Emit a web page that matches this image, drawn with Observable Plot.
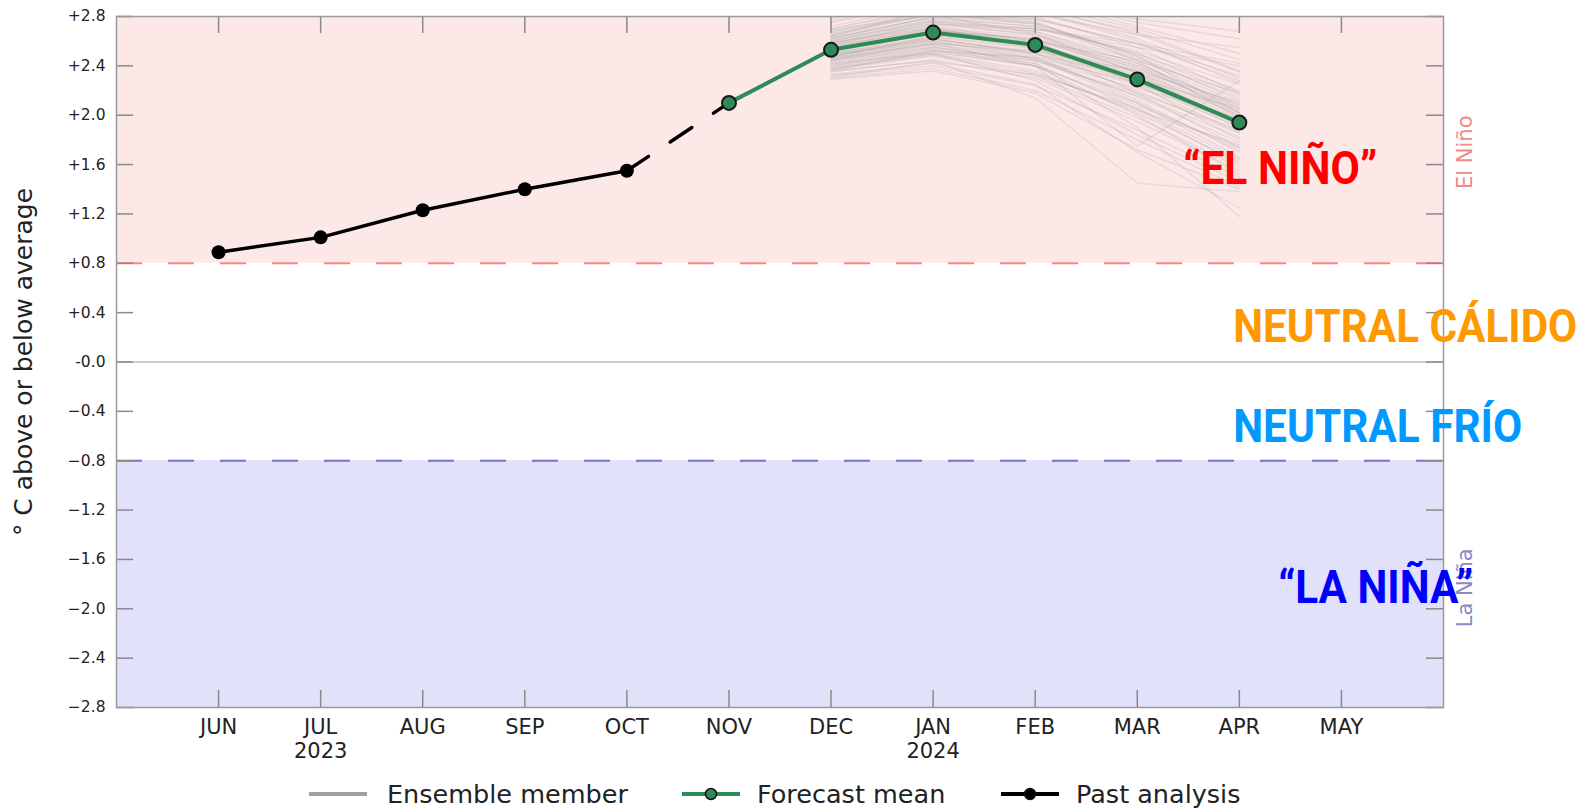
<!DOCTYPE html>
<html>
<head>
<meta charset="utf-8">
<script src="https://cdn.jsdelivr.net/npm/d3@7"></script>
<script src="https://cdn.jsdelivr.net/npm/@observablehq/plot@0.6"></script>
<style>
  body { margin: 0; background: #fff; }
  #wrap { width: 1589px; position: relative; }
  #legend { position: relative; width: 1589px; height: 39px; font-family: "DejaVu Sans", sans-serif; font-size: 25.5px; color: #222; }
  #legend .item { position: absolute; top: 4px; height: 39px; display: flex; align-items: center; }
  #legend svg { display: block; }
</style>
</head>
<body>
<div id="wrap"></div>
<script>
// ---- data ----
const months = ["JUN","JUL","AUG","SEP","OCT","NOV","DEC","JAN","FEB","MAR","APR","MAY"];
const years  = ["", "2023", "", "", "", "", "", "2024", "", "", "", ""];
const yTicks = [2.8,2.4,2.0,1.6,1.2,0.8,0.4,0,-0.4,-0.8,-1.2,-1.6,-2.0,-2.4,-2.8];
const yTickLabels = ["+2.8","+2.4","+2.0","+1.6","+1.2","+0.8","+0.4","-0.0","\u22120.4","\u22120.8","\u22121.2","\u22121.6","\u22122.0","\u22122.4","\u22122.8"];

const pastMonths = ["JUN","JUL","AUG","SEP","OCT"];
const pastValues = [0.89, 1.01, 1.23, 1.40, 1.55];

const forecastMonths = ["NOV","DEC","JAN","FEB","MAR","APR"];
const forecastMean   = [2.10, 2.53, 2.67, 2.57, 2.29, 1.94];

const ensembleMonths = ["DEC","JAN","FEB","MAR","APR"];
const ensemble = [
  [2.55,2.70,2.62,2.35,2.00],[2.48,2.62,2.50,2.20,1.85],[2.60,2.78,2.72,2.50,2.20],
  [2.40,2.52,2.40,2.10,1.72],[2.70,2.88,2.85,2.62,2.30],[2.35,2.45,2.30,1.95,1.55],
  [2.52,2.66,2.58,2.32,1.98],[2.58,2.74,2.68,2.45,2.10],[2.45,2.58,2.46,2.15,1.78],
  [2.62,2.80,2.78,2.58,2.28],[2.30,2.38,2.20,1.80,1.42],[2.50,2.64,2.55,2.28,1.92],
  [2.75,2.92,2.90,2.70,2.45],[2.42,2.55,2.44,2.18,1.88],[2.56,2.72,2.60,2.25,1.80],
  [2.64,2.82,2.75,2.48,2.12],[2.38,2.50,2.36,2.02,1.62],[2.53,2.68,2.62,2.40,2.08],
  [2.47,2.60,2.48,2.12,1.70],[2.68,2.85,2.80,2.55,2.18],[2.33,2.42,2.25,1.70,1.25],
  [2.51,2.66,2.56,2.30,1.95],[2.59,2.76,2.70,2.52,2.25],[2.44,2.57,2.45,2.22,1.98],
  [2.80,2.95,2.88,2.66,2.35],[2.49,2.61,2.52,2.26,1.90],[2.37,2.48,2.32,1.98,1.58],
  [2.57,2.73,2.66,2.42,2.06],[2.46,2.59,2.50,2.30,2.05],[2.65,2.83,2.76,2.44,1.98],
  [2.40,2.53,2.42,2.05,1.60],[2.54,2.69,2.60,2.36,2.02],[2.61,2.77,2.70,2.55,2.40],
  [2.36,2.44,2.14,1.45,1.38],[2.50,2.63,2.54,2.27,1.94],[2.72,2.90,2.84,2.60,2.26],
  [2.39,2.51,2.40,2.08,1.74],[2.55,2.71,2.64,2.38,2.04],[2.48,2.60,2.46,2.10,1.66],
  [2.63,2.79,2.72,2.46,2.14],[2.32,2.40,2.24,1.88,1.50],[2.52,2.67,2.58,2.34,2.00],
  [2.58,2.75,2.65,2.40,2.02],[2.45,2.58,2.52,2.36,2.10],[2.67,2.84,2.78,2.58,2.32],
  [2.41,2.54,2.40,2.00,1.52],[2.56,2.70,2.58,2.28,1.90],[2.60,2.76,2.68,2.42,2.08],
  [2.44,2.56,2.42,1.90,1.18],[2.53,2.69,2.61,2.38,2.06],[2.29,2.36,2.18,1.72,1.40],
  [2.66,2.82,2.74,2.50,2.16],[2.49,2.62,2.50,2.24,1.86],[2.57,2.74,2.70,2.58,2.42],
  [2.46,2.58,2.40,1.75,2.28],[2.62,2.80,2.74,2.48,2.02],[2.38,2.49,2.34,2.04,1.76],
  [2.54,2.68,2.56,2.30,1.96],[2.70,2.86,2.82,2.65,2.55],[2.43,2.55,2.44,2.16,1.82],
  [2.76,2.94,2.92,2.78,2.68],[2.84,3.00,2.95,2.75,2.62],[2.31,2.43,2.33,2.06,1.64],
  [2.59,2.71,2.55,2.18,1.74],[2.47,2.64,2.60,2.44,2.18],[2.69,2.81,2.66,2.34,1.92],
  [2.36,2.52,2.47,2.26,1.96],[2.78,2.97,2.93,2.72,2.50],[2.42,2.50,2.28,1.84,1.46],
  [2.64,2.86,2.86,2.68,2.36]
];

const thresholds = [0.8, -0.8];
const bands = [
  {lo: 0.8, hi: 2.8, fill: "#fde8e8"},
  {lo: -2.8, hi: -0.8, fill: "#e1e1fa"}
];
const sideLabels = [
  {text: "El Ni\u00f1o", y: 1.70, color: "#f08a8a"},
  {text: "La Ni\u00f1a", y: -1.83, color: "#8a8ac4"}
];
const phaseLabels = [
  {text: "\u201cEL NI\u00d1O\u201d", x: 9.45, y: 1.567, color: "#ff0000", len: 194},
  {text: "NEUTRAL C\u00c1LIDO", x: 9.94, y: 0.284, color: "#ff9900", len: 344},
  {text: "NEUTRAL FR\u00cdO", x: 9.94, y: -0.528, color: "#0099ff", len: 289},
  {text: "\u201cLA NI\u00d1A\u201d", x: 10.38, y: -1.834, color: "#0000ff", len: 195}
];

// ---- derived tables ----
const idx = m => months.indexOf(m);
const monthIdx = months.map((m, i) => i);
const past = pastMonths.map((m, i) => ({x: idx(m), y: pastValues[i]}));
const fc = forecastMonths.map((m, i) => ({x: idx(m), y: forecastMean[i]}));
const bridge = [past[past.length - 1], fc[0]];
const ens = ensemble.flatMap((vals, k) => vals.map((v, j) => ({member: k, x: idx(ensembleMonths[j]), y: v})));
const yt = yTicks.map((v, i) => ({v, label: yTickLabels[i]}));

const W = 1589, H = 770;
const mL = 116, mR = 146, mT = 16, mB = 63;
const innerW = W - mL - mR, innerH = H - mT - mB;
const tickLen = 17;
const font = "DejaVu Sans, sans-serif";
const bigFont = "Roboto, 'DejaVu Sans Condensed', sans-serif";

const chart = Plot.plot({
  width: W, height: H,
  marginLeft: mL, marginRight: mR, marginTop: mT, marginBottom: mB,
  x: {domain: [-1, 12], axis: null},
  y: {domain: [-2.8, 2.8], axis: null},
  style: {fontFamily: font, background: "transparent", overflow: "visible"},
  marks: [
    Plot.rect(bands, {y1: "lo", y2: "hi", fill: d => d.fill}),
    Plot.ruleY([0], {stroke: "#bdbdbd", strokeWidth: 1.5}),
    Plot.ruleY(thresholds, {stroke: d => d > 0 ? "#ff8585" : "#7474c8", strokeWidth: 2, strokeDasharray: "26,26"}),
    // inward ticks
    Plot.tickX(monthIdx, {x: d => d, insetTop: innerH - tickLen, stroke: "#8a8a8a", strokeWidth: 1.5}),
    Plot.tickX(monthIdx, {x: d => d, insetBottom: innerH - tickLen, stroke: "#8a8a8a", strokeWidth: 1.5}),
    Plot.tickY(yTicks, {y: d => d, insetRight: innerW - tickLen, stroke: "#8a8a8a", strokeWidth: 1.5}),
    Plot.tickY(yTicks, {y: d => d, insetLeft: innerW - tickLen, stroke: "#8a8a8a", strokeWidth: 1.5}),
    // ensemble
    Plot.line(ens, {x: "x", y: "y", z: "member", stroke: "#9a9a9a", strokeOpacity: 0.22, strokeWidth: 1.4, clip: true}),
    // past analysis
    Plot.line(bridge, {x: "x", y: "y", stroke: "#000", strokeWidth: 3.5, strokeDasharray: "26,26"}),
    Plot.line(past, {x: "x", y: "y", stroke: "#000", strokeWidth: 3.5}),
    Plot.dot(past, {x: "x", y: "y", r: 7, fill: "#000"}),
    // forecast mean
    Plot.line(fc, {x: "x", y: "y", stroke: "#2e8b57", strokeWidth: 4}),
    Plot.dot(fc, {x: "x", y: "y", r: 7, fill: "#2e8b57", stroke: "#1a1a1a", strokeWidth: 2}),
    Plot.frame({stroke: "#9a9a9a", strokeWidth: 1.5}),
    // tick labels
    Plot.text(yt, {y: "v", text: "label", frameAnchor: "left", textAnchor: "end", dx: -11, fontSize: 15.5, fill: "#222"}),
    Plot.text(monthIdx, {x: d => d, text: d => months[d], frameAnchor: "bottom", dy: 26, fontSize: 21, fill: "#222"}),
    Plot.text(monthIdx, {x: d => d, text: d => years[d], frameAnchor: "bottom", dy: 50, fontSize: 21, fill: "#222"}),
    // y label
    Plot.text(["\u00b0 C above or below average"], {frameAnchor: "left", textAnchor: "middle", dx: -93, rotate: -90, fontSize: 25, fill: "#222"}),
    // side labels
    Plot.text(sideLabels, {y: "y", text: "text", frameAnchor: "right", textAnchor: "middle", dx: 22, rotate: -90, fontSize: 21, fill: d => d.color}),
    // phase labels
    Plot.text(phaseLabels, {x: "x", y: "y", text: "text", textAnchor: "start", fontSize: 47, fontWeight: "bold", fontFamily: bigFont, fill: d => d.color})
  ]
});

// condense the big phase labels to their measured widths
for (const t of chart.querySelectorAll("text")) {
  const p = phaseLabels.find(d => d.text === t.textContent);
  if (p) { t.setAttribute("textLength", p.len); t.setAttribute("lengthAdjust", "spacingAndGlyphs"); }
}

const wrap = document.getElementById("wrap");
wrap.appendChild(chart);

// ---- legend ----
const legend = document.createElement("div");
legend.id = "legend";
const items = [
  {left: 308, label: "Ensemble member", stroke: "#a0a0a0", marker: null, textLeft: 387},
  {left: 681, label: "Forecast mean", stroke: "#2e8b57", marker: "#2e8b57", textLeft: 757},
  {left: 1000, label: "Past analysis", stroke: "#000", marker: "#000", textLeft: 1076}
];
for (const it of items) {
  const sw = document.createElement("div");
  sw.className = "item";
  sw.style.left = it.left + "px";
  sw.innerHTML = `<svg width="60" height="14"><line x1="1" x2="59" y1="7" y2="7" stroke="${it.stroke}" stroke-width="4"/>${it.marker ? `<circle cx="30" cy="7" r="5.5" fill="${it.marker}" stroke="#111" stroke-width="1.5"/>` : ""}</svg>`;
  legend.appendChild(sw);
  const tx = document.createElement("div");
  tx.className = "item";
  tx.style.left = it.textLeft + "px";
  tx.textContent = it.label;
  legend.appendChild(tx);
}
wrap.appendChild(legend);
</script>
</body>
</html>
